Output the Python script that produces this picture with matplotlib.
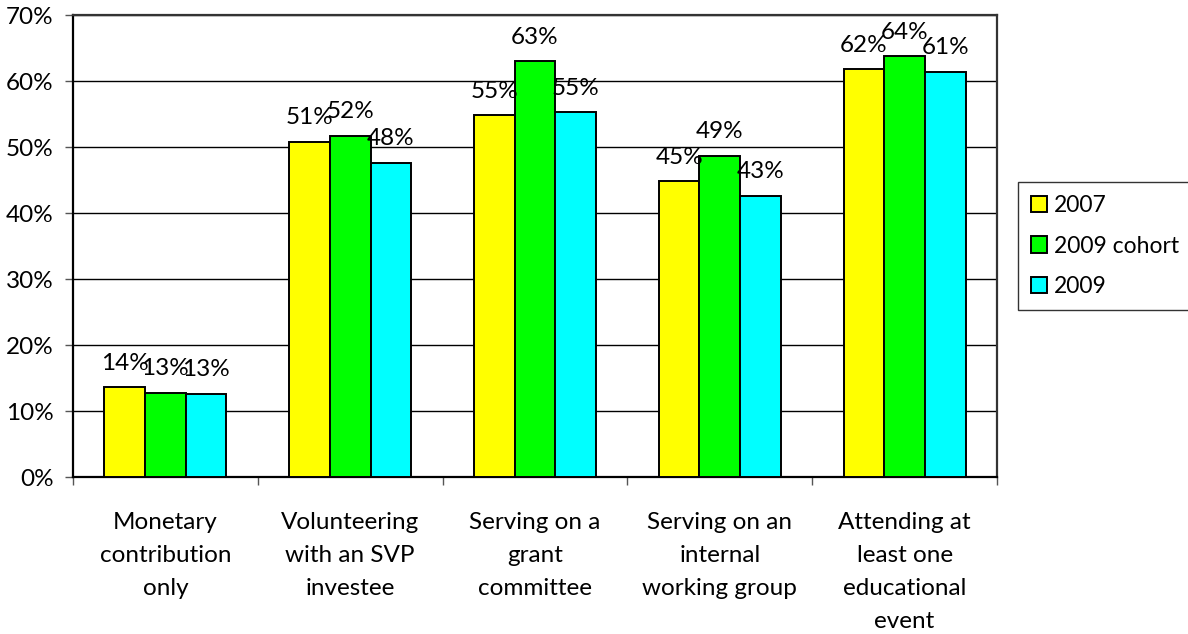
import matplotlib
matplotlib.use("Agg")
import matplotlib.pyplot as plt
import numpy as np

plt.rcParams['font.family'] = ['Lato', 'DejaVu Sans']

categorias = ["Monetary\ncontribution\nonly",
              "Volunteering\nwith an SVP\ninvestee",
              "Serving on a\ngrant\ncommittee",
              "Serving on an\ninternal\nworking group",
              "Attending at\nleast one\neducational\nevent"]

series = ["2007", "2009 cohort", "2009"]
v_2007 = [13.6, 50.8, 54.8, 44.8, 61.8]
v_2009_cohort = [12.8, 51.7, 63.0, 48.7, 63.8]
v_2009 = [12.6, 47.6, 55.3, 42.6, 61.4]
colores = ["#FFFF00", "#00FF00", "#00FFFF"]

fs = 17.5

fig = plt.figure(figsize=(11.88, 6.34), dpi=100)
ax = fig.add_axes([73 / 1188, 1 - 477 / 634, (997 - 73) / 1188, (477 - 15) / 634])

x = np.arange(len(categorias))
ancho = 0.22
for i, (nombre, vals) in enumerate(zip(series, [v_2007, v_2009_cohort, v_2009])):
    pos = x + (i - 1) * ancho
    ax.bar(pos, vals, width=ancho, color=colores[i], edgecolor="black",
           linewidth=1.4, label=nombre, zorder=3)
    for xp, v in zip(pos, vals):
        ax.annotate(f"{v:.0f}%", (xp, v), xytext=(0, 12.5), textcoords="offset points",
                    ha="center", va="baseline", fontsize=fs, zorder=4)

ax.set_xlim(-0.5, len(categorias) - 0.5)
ax.set_ylim(0, 70)
ax.set_yticks(range(0, 71, 10))
ax.set_yticklabels([f"{t}%" for t in range(0, 71, 10)], fontsize=fs)
ax.yaxis.grid(True, color="black", linewidth=1.0, zorder=0)

ax.set_xticks(x)
ax.set_xticklabels(categorias, fontsize=fs, linespacing=1.72, va="top")
ax.tick_params(axis="x", length=0, pad=25)
ax.set_xticks(np.arange(-0.5, len(categorias), 1), minor=True)
ax.tick_params(axis="x", which="minor", length=6, width=1, color="#555555")
ax.tick_params(axis="y", length=6, width=1, color="#555555", pad=8)

for lado in ["left", "bottom"]:
    ax.spines[lado].set_linewidth(1.6)
for lado in ["top", "right"]:
    ax.spines[lado].set_linewidth(1.6)
    ax.spines[lado].set_color("#333333")

leg = fig.legend(loc="center left", bbox_to_anchor=(1018 / 1188, 1 - 246 / 634),
                 fontsize=16.5, frameon=True, fancybox=False, edgecolor="black",
                 handlelength=0.7, handleheight=0.7, handletextpad=0.3,
                 labelspacing=0.85, borderpad=0.55, borderaxespad=0)
leg.get_frame().set_linewidth(1.0)

plt.savefig("out.png", dpi=100)
plt.close()
